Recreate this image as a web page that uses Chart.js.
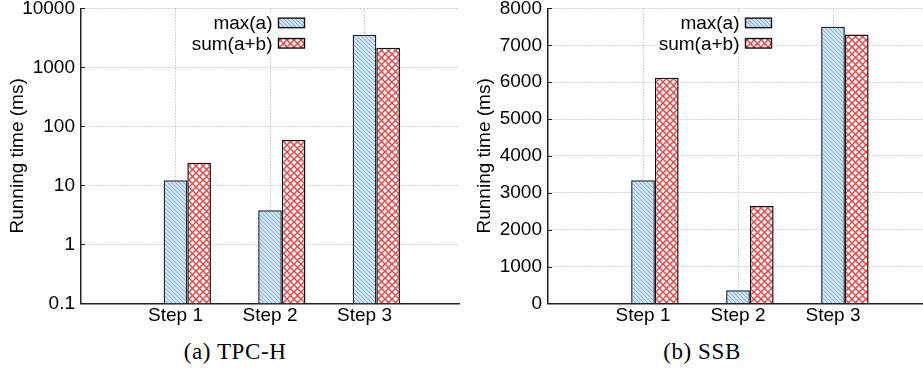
<!DOCTYPE html>
<html>
<head>
<meta charset="utf-8">
<script src="https://cdn.jsdelivr.net/npm/chart.js@4.4.0/dist/chart.umd.min.js"></script>
<style>
  html, body { margin: 0; padding: 0; background: #fff; }
  body { width: 923px; height: 371px; overflow: hidden; position: relative; }
  .panel { position: absolute; top: -9.4px; height: 339.4px; }
  #leftPanel { left: 0; width: 460px; }
  #rightPanel { left: 460px; width: 470px; }
  .caption {
    position: absolute; top: 339px; transform: translateX(-50%);
    font-family: 'Liberation Serif', 'Times New Roman', serif; font-size: 23px;
    letter-spacing: 0.6px; white-space: nowrap; color: #000;
  }
</style>
</head>
<body>
<div class="panel" id="leftPanel"><canvas id="tpchChart"></canvas></div>
<div class="panel" id="rightPanel"><canvas id="ssbChart"></canvas></div>
<div class="caption" id="capLeft" style="left:235px"></div>
<div class="caption" id="capRight" style="left:702px"></div>
<script>
// categories (blank slots at both ends keep the gnuplot-style margins)
const steps = ['', 'Step 1', 'Step 2', 'Step 3', ''];
const seriesNames = ['max(a)', 'sum(a+b)'];

// TPC-H running time (ms), log scale
const tpchMax = [null, 12.2, 3.8, 3580, null];
const tpchSum = [null, 24.3, 58.6, 2150, null];
const tpchTicks = [0.1, 1, 10, 100, 1000, 10000];

// SSB running time (ms), linear scale
const ssbMax = [null, 3340, 360, 7500, null];
const ssbSum = [null, 6120, 2640, 7290, null];
const ssbTicks = [0, 1000, 2000, 3000, 4000, 5000, 6000, 7000, 8000];

const captions = ['(a) TPC-H', '(b) SSB'];
const yTitle = 'Running time (ms)';

const FONT = '"Liberation Sans", Arial, Helvetica, sans-serif';

document.getElementById('capLeft').textContent = captions[0];
document.getElementById('capRight').textContent = captions[1];

// fill patterns
function stripePattern() {
    const c = document.createElement('canvas');
    c.width = 4; c.height = 4;
    const g = c.getContext('2d');
    g.fillStyle = '#e6f1fc';
    g.fillRect(0, 0, 4, 4);
    g.strokeStyle = '#78b0ea';
    g.lineWidth = 1.2;
    g.beginPath();
    g.moveTo(-1, -1); g.lineTo(5, 5);
    g.moveTo(-1, 3); g.lineTo(1, 5);
    g.moveTo(3, -1); g.lineTo(5, 1);
    g.stroke();
    return g.createPattern(c, 'repeat');
}

function crossPattern() {
    const s = 7;
    const c = document.createElement('canvas');
    c.width = s; c.height = s;
    const g = c.getContext('2d');
    g.fillStyle = '#fff';
    g.fillRect(0, 0, s, s);
    g.strokeStyle = '#ee4444';
    g.lineWidth = 1.5;
    g.beginPath();
    g.moveTo(-1, -1); g.lineTo(s + 1, s + 1);
    g.moveTo(s + 1, -1); g.lineTo(-1, s + 1);
    g.stroke();
    return g.createPattern(c, 'repeat');
}

const blueFill = stripePattern();
const redFill = crossPattern();

// legend drawn inside the plot, text to the left of the swatch
const insideLegend = {
    id: 'insideLegend',
    afterDatasetsDraw(chart) {
        const { ctx, chartArea } = chart;
        const items = chart.data.datasets.filter(d => d.label);
        const boxRight = chartArea.left + 223.5;
        const boxW = 26, boxH = 9.5;
        ctx.save();
        ctx.font = '19px ' + FONT;
        const widest = Math.max(...items.map(d => ctx.measureText(d.label).width));
        ctx.fillStyle = '#fff';
        ctx.fillRect(boxRight - boxW - 6 - widest - 3, chartArea.top + 5, widest + boxW + 12, 40);
        items.forEach((d, i) => {
            const cy = chartArea.top + 14.5 + i * 20.4;
            ctx.fillStyle = '#000';
            ctx.textAlign = 'right';
            ctx.textBaseline = 'middle';
            ctx.fillText(d.label, boxRight - boxW - 6, cy + 1);
            ctx.fillStyle = d.backgroundColor;
            ctx.fillRect(boxRight - boxW, cy - boxH / 2, boxW, boxH);
            ctx.strokeStyle = '#111';
            ctx.lineWidth = 1.4;
            ctx.strokeRect(boxRight - boxW, cy - boxH / 2, boxW, boxH);
        });
        ctx.restore();
    }
};

// short solid tick marks pointing into the plot at each labelled value
const innerTicks = {
    id: 'innerTicks',
    afterDraw(chart) {
        const { ctx, chartArea, scales } = chart;
        ctx.save();
        ctx.strokeStyle = '#222';
        ctx.lineWidth = 1;
        scales.y.ticks.forEach(t => {
            const py = Math.round(scales.y.getPixelForValue(t.value)) + 0.5;
            ctx.beginPath();
            ctx.moveTo(chartArea.left, py);
            ctx.lineTo(chartArea.left + 4, py);
            ctx.stroke();
        });
        ctx.restore();
    }
};

function makeChart(canvasId, maxData, sumData, yScale, axisWidth, titlePad, padRight) {
    return new Chart(document.getElementById(canvasId), {
        type: 'bar',
        data: {
            labels: steps,
            datasets: [
                // empty slot so that max(a) sits centred on its tick
                { label: '', data: steps.map(() => null) },
                {
                    label: seriesNames[0], data: maxData,
                    backgroundColor: blueFill, borderColor: '#1c2633', borderWidth: 1.5
                },
                {
                    label: seriesNames[1], data: sumData,
                    backgroundColor: redFill, borderColor: '#111', borderWidth: 1.5
                }
            ]
        },
        options: {
            responsive: true,
            maintainAspectRatio: false,
            animation: false,
            layout: { padding: { top: 0, right: padRight, left: 0, bottom: 0 } },
            datasets: { bar: { categoryPercentage: 0.75, barPercentage: 1.0 } },
            plugins: {
                legend: { display: false },
                tooltip: { enabled: false }
            },
            scales: {
                x: {
                    offset: false,
                    grid: {
                        offset: false,
                        drawTicks: false,
                        color: c => (c.index === 0 || c.index === steps.length - 1) ? 'rgba(0,0,0,0)' : '#a8a8a8',
                        lineWidth: 1
                    },
                    border: { color: '#222', width: 1.5, dash: [1, 2] },
                    ticks: {
                        autoSkip: false, maxRotation: 0, padding: 1,
                        color: '#000', font: { family: FONT, size: 19 }
                    },
                    afterFit: s => { s.height = 27; }
                },
                y: Object.assign({
                    grid: { drawTicks: false, color: '#a8a8a8', lineWidth: 1 },
                    border: { color: '#222', width: 1.5, dash: [1, 2] },
                    title: {
                        display: true, text: yTitle, color: '#000',
                        font: { family: FONT, size: 19 }, padding: { top: titlePad, bottom: 0 }
                    },
                    afterFit: s => { s.width = axisWidth; }
                }, yScale)
            }
        },
        plugins: [insideLegend, innerTicks]
    });
}

makeChart('tpchChart', tpchMax, tpchSum, {
    type: 'logarithmic',
    min: tpchTicks[0],
    max: tpchTicks[tpchTicks.length - 1],
    afterBuildTicks: s => { s.ticks = tpchTicks.map(v => ({ value: v })); },
    ticks: {
        padding: 6, color: '#000', font: { family: FONT, size: 19 },
        callback: v => String(v)
    }
}, 81, 6.6, 1);

makeChart('ssbChart', ssbMax, ssbSum, {
    type: 'linear',
    min: ssbTicks[0],
    max: ssbTicks[ssbTicks.length - 1],
    afterBuildTicks: s => { s.ticks = ssbTicks.map(v => ({ value: v })); },
    ticks: {
        padding: 6, color: '#000', font: { family: FONT, size: 19 },
        callback: v => String(v)
    }
}, 88, 13.6, 2);
</script>
</body>
</html>
